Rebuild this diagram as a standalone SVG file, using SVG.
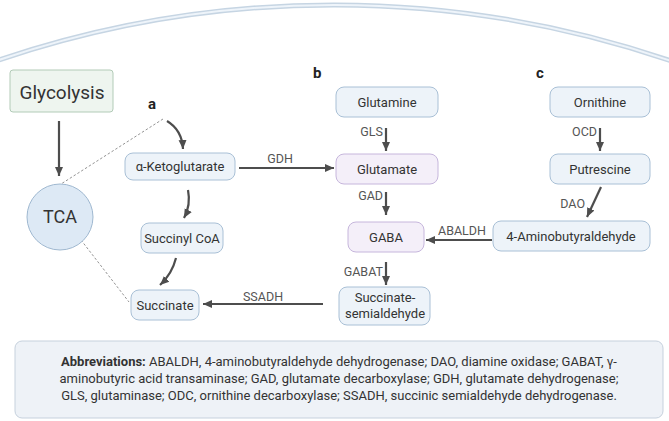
<svg xmlns="http://www.w3.org/2000/svg" width="669" height="421" viewBox="0 0 669 421">
<defs>
<marker id="ah" markerUnits="userSpaceOnUse" markerWidth="10" markerHeight="10" refX="9" refY="5" orient="auto">
<path d="M0,1 L9,5 L0,9 Z" fill="#4d4d4d"/>
</marker>
<style>
.box{fill:#edf3f9;stroke:#a9c0d6;stroke-width:1}
.lav{fill:#f4eff9;stroke:#c6b6dc;stroke-width:1}
.t{font-family:Roboto,"Liberation Sans",sans-serif;font-size:13px;fill:#333;text-anchor:middle}
.e{font-family:Roboto,"Liberation Sans",sans-serif;font-size:12.5px;fill:#555}
.lbl{font-family:Roboto,"Liberation Sans",sans-serif;font-size:15px;font-weight:bold;fill:#222}
.ar{fill:none;stroke:#4d4d4d;stroke-width:2.2;marker-end:url(#ah)}
.dash{fill:none;stroke:#777;stroke-width:0.8;stroke-dasharray:2.5 2}
</style>
</defs>
<rect width="669" height="421" fill="#fff"/>
<path d="M-10,63 A1045,1045 0 0 1 680,64" fill="none" stroke="#c6d5e3" stroke-width="5"/>
<path d="M-10,63 A1045,1045 0 0 1 680,64" fill="none" stroke="#eef4fa" stroke-width="2"/>

<g id="connectors">
<line class="ar" x1="59" y1="121" x2="59" y2="176"/>
<line class="dash" x1="163" y1="119" x2="61" y2="184"/>
<line class="dash" x1="81" y1="240" x2="129" y2="302"/>
<path class="ar" d="M167,121 Q182,130 183,149"/>
<path class="ar" d="M188,190 Q191,205 184,218"/>
<path class="ar" d="M176,258 Q172,274 160,285"/>
<line class="ar" x1="239" y1="168" x2="334" y2="168"/>
<line class="ar" x1="386" y1="128" x2="386" y2="151"/>
<line class="ar" x1="386" y1="192" x2="386" y2="215"/>
<line class="ar" x1="386" y1="262" x2="386" y2="285"/>
<line class="ar" x1="492" y1="240" x2="426" y2="240"/>
<line class="ar" x1="323" y1="304" x2="203" y2="304"/>
<line class="ar" x1="600" y1="128" x2="600" y2="151"/>
<line class="ar" x1="601" y1="187" x2="587" y2="217"/>
<text class="e" x="280" y="163" text-anchor="middle">GDH</text>
<text class="e" x="383" y="136" text-anchor="end">GLS</text>
<text class="e" x="383" y="200" text-anchor="end">GAD</text>
<text class="e" x="383" y="276" text-anchor="end">GABAT</text>
<text class="e" x="462" y="235" text-anchor="middle">ABALDH</text>
<text class="e" x="263" y="301" text-anchor="middle">SSADH</text>
<text class="e" x="597" y="136" text-anchor="end">OCD</text>
<text class="e" x="585" y="208" text-anchor="end">DAO</text>
</g>

<g id="glycolysis">
<rect x="10" y="70" width="103" height="42" rx="3" fill="#eef5ef" stroke="#b2cbb7"/>
<text x="62" y="99" font-family="Roboto,'Liberation Sans',sans-serif" font-size="19" fill="#333" text-anchor="middle">Glycolysis</text>
</g>
<g id="tca">
<circle cx="60" cy="217" r="33" fill="#dde9f5" stroke="#9fb8d0"/>
<text x="60" y="223" font-family="Roboto,'Liberation Sans',sans-serif" font-size="18" fill="#333" text-anchor="middle">TCA</text>
</g>
<g id="labels">
<text class="lbl" x="148" y="109">a</text>
<text class="lbl" x="313" y="78">b</text>
<text class="lbl" x="536" y="78">c</text>
</g>
<g id="akg">
<rect class="box" x="125" y="153" width="110" height="27" rx="8"/>
<text class="t" x="180" y="171">α-Ketoglutarate</text>
</g>
<g id="succinylcoa">
<rect class="box" x="141" y="223" width="82" height="30" rx="8"/>
<text class="t" x="182" y="243">Succinyl CoA</text>
</g>
<g id="succinate">
<rect class="box" x="131" y="290" width="68" height="30" rx="8"/>
<text class="t" x="165" y="310">Succinate</text>
</g>
<g id="glutamine">
<rect class="box" x="336" y="87" width="102" height="30" rx="8"/>
<text class="t" x="387" y="107">Glutamine</text>
</g>
<g id="glutamate">
<rect class="lav" x="336" y="154" width="102" height="30" rx="8"/>
<text class="t" x="387" y="174">Glutamate</text>
</g>
<g id="gaba">
<rect class="lav" x="348" y="222" width="76" height="30" rx="8"/>
<text class="t" x="386" y="242">GABA</text>
</g>
<g id="ssa">
<rect class="box" x="339" y="287" width="91" height="38" rx="8"/>
<text class="t" x="385" y="302">Succinate-</text>
<text class="t" x="385" y="318">semialdehyde</text>
</g>
<g id="ornithine">
<rect class="box" x="550" y="87" width="100" height="30" rx="8"/>
<text class="t" x="600" y="107">Ornithine</text>
</g>
<g id="putrescine">
<rect class="box" x="550" y="154" width="100" height="30" rx="8"/>
<text class="t" x="600" y="174">Putrescine</text>
</g>
<g id="aminobutyraldehyde">
<rect class="box" x="493" y="221" width="157" height="30" rx="8"/>
<text class="t" x="571" y="241">4-Aminobutyraldehyde</text>
</g>
<g id="abbreviations">
<rect x="15" y="341" width="648" height="77" rx="7" fill="#eef2f7" stroke="#c6d1dd"/>
<text class="t" x="339" y="366" fill="#444"><tspan font-weight="bold">Abbreviations:</tspan> ABALDH, 4-aminobutyraldehyde dehydrogenase; DAO, diamine oxidase; GABAT, γ-</text>
<text class="t" x="339" y="383" fill="#444">aminobutyric acid transaminase; GAD, glutamate decarboxylase; GDH, glutamate dehydrogenase;</text>
<text class="t" x="339" y="400" fill="#444">GLS, glutaminase; ODC, ornithine decarboxylase; SSADH, succinic semialdehyde dehydrogenase.</text>
</g>
</svg>
